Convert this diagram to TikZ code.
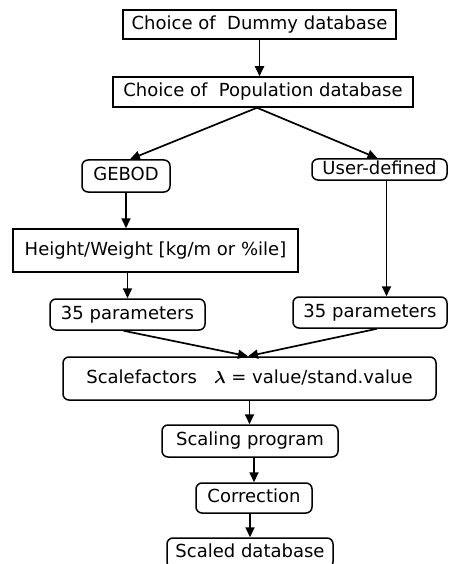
\documentclass[tikz,border=0pt]{standalone}
\usepackage{fontspec}
\setmainfont{DejaVu Sans}
\usepackage{bm}
\usetikzlibrary{arrows.meta}
\begin{document}
\begin{tikzpicture}[x=1pt,y=-1pt,
  box/.style={draw,line width=1.5pt,inner sep=0pt,font=\fontsize{18}{21}\selectfont,text height=13pt,text depth=3.8pt},
  rbox/.style={box,rounded corners=6pt},
  arr/.style={line width=1.7pt,-{Triangle[length=10pt,width=9pt]}}]
\useasboundingbox (0,0) rectangle (448,564);
\node[box,minimum width=273pt,minimum height=29pt] (dummy) at (259.5,24.5) {Choice of\ \ Dummy database};
\node[box,minimum width=300pt,minimum height=30pt] (pop) at (263,92) {Choice of\ \ Population database};
\node[rbox,minimum width=88pt,minimum height=32pt] (gebod) at (126,176) {GEBOD};
\node[rbox,minimum width=135pt,minimum height=21pt] (user) at (379.5,169.5) {User-defined};
\node[box,minimum width=285pt,minimum height=43pt] (hw) at (155.5,250.5) {Height/Weight [kg/m or \%ile]};
\node[rbox,minimum width=155pt,minimum height=31pt] (pl) at (127.5,314.5) {35 parameters};
\node[rbox,minimum width=154pt,minimum height=31pt] (pr) at (370,312.5) {35 parameters};
\node[rbox,minimum width=373pt,minimum height=43pt] (sf) at (249.5,378.5) {Scalefactors\ \ \ $\bm{\lambda}$ = value/stand.value};
\node[rbox,minimum width=176pt,minimum height=32pt] (sp) at (250,441) {Scaling program};
\node[rbox,minimum width=116pt,minimum height=30pt] (corr) at (254,498) {Correction};
\node[rbox,minimum width=166pt,minimum height=30pt] (sd) at (250,553) {Scaled database};
\coordinate (split) at ([xshift=-6pt]pop.south);
\draw[arr] (dummy.south) -- (dummy.south |- pop.north);
\draw[arr] (split) -- ([xshift=4pt]gebod.north);
\draw[arr] (split) -- ([xshift=-2pt]user.north);
\draw[arr] (gebod.south) -- (gebod.south |- hw.north);
\draw[arr] (pl.north |- hw.south) -- (pl.north);
\draw[arr] ([xshift=7pt]user.south) -- ([xshift=7pt]user.south |- pr.north);
\draw[arr] ([xshift=-4pt]pl.south) -- ([xshift=-1.5pt]sf.north);
\draw[arr] ([xshift=7pt]pr.south) -- ([xshift=-1.5pt]sf.north);
\draw[arr] (sf.south) -- (sf.south |- sp.north);
\draw[arr] (corr.north |- sp.south) -- (corr.north);
\draw[arr] (sd.north |- corr.south) -- (sd.north);
\end{tikzpicture}
\end{document}
